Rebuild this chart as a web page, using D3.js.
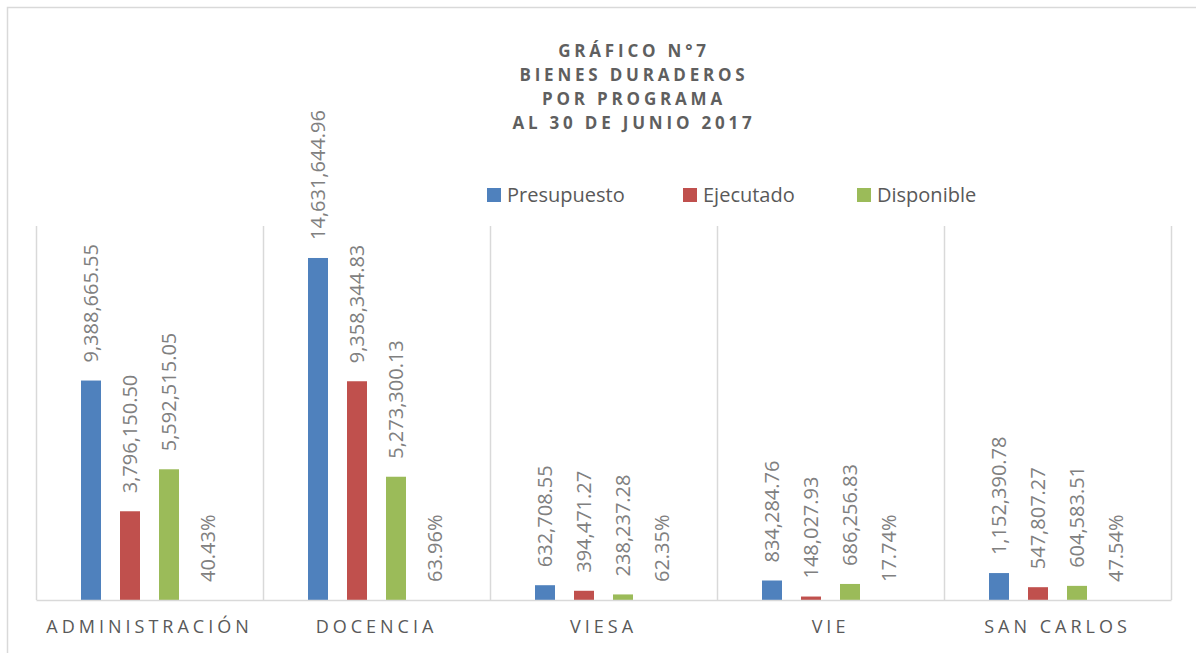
<!DOCTYPE html>
<html>
<head>
<meta charset="utf-8">
<script src="https://cdn.jsdelivr.net/npm/d3@7"></script>
<style>
  body { margin: 0; background: #fff; }
  text { font-family: "Open Sans", sans-serif; }
</style>
</head>
<body>
<div id="chart"></div>
<script>
let categories = ["ADMINISTRACIÓN", "DOCENCIA", "VIESA", "VIE", "SAN CARLOS"];
let presupuesto = [9388665.55, 14631644.96, 632708.55, 834284.76, 1152390.78];
let ejecutado = [3796150.50, 9358344.83, 394471.27, 148027.93, 547807.27];
let disponible = [5592515.05, 5273300.13, 238237.28, 686256.83, 604583.51];
let porcentaje = [0.4043, 0.6396, 0.6235, 0.1774, 0.4754];
let seriesNames = ["Presupuesto", "Ejecutado", "Disponible"];
let seriesColors = ["#4f81bd", "#c0504d", "#9bbb59"];
let titleLines = ["GRÁFICO N°7", "BIENES DURADEROS", "POR PROGRAMA", "AL 30 DE JUNIO 2017"];

let dims = { width: 1196, height: 653, left: 36, right: 1171, top: 226, bottom: 600 };

const svg = d3.select("#chart").append("svg")
  .attr("width", dims.width).attr("height", dims.height);

// outer frame
svg.append("path")
  .attr("d", `M7.5,${dims.height} V7.5 H${dims.width}`)
  .attr("fill", "none").attr("stroke", "#d9d9d9").attr("stroke-width", 1.5);

const x = d3.scaleBand().domain(categories).range([dims.left, dims.right]);
const inner = d3.scalePoint().domain([0, 1, 2, 3]).range([-58.5, 58.5]);
const y = d3.scaleLinear().domain([0, 16000000]).range([dims.bottom, dims.top]);
const barW = 20;

// category separators
svg.append("g").selectAll("line")
  .data(d3.range(categories.length + 1))
  .join("line")
  .attr("x1", i => Math.round(dims.left + i * x.step()) + 0.5)
  .attr("x2", i => Math.round(dims.left + i * x.step()) + 0.5)
  .attr("y1", dims.top).attr("y2", dims.bottom)
  .attr("stroke", "#d9d9d9").attr("stroke-width", 1.5);

let rows = categories.map((c, i) => ({
  cat: c,
  vals: [presupuesto[i], ejecutado[i], disponible[i]],
  pct: porcentaje[i]
}));

let bars = [];
rows.forEach(r => {
  r.vals.forEach((v, k) => bars.push({ cat: r.cat, k: k, v: v }));
});

svg.append("g").selectAll("rect")
  .data(bars)
  .join("rect")
  .attr("x", d => x(d.cat) + x.bandwidth() / 2 + inner(d.k) - barW / 2)
  .attr("width", barW)
  .attr("y", d => y(d.v))
  .attr("height", d => y(0) - y(d.v))
  .attr("fill", d => seriesColors[d.k]);

const fmt = d3.format(",.2f");
const pfmt = d3.format(".2%");

let labels = bars.map(d => ({ cat: d.cat, k: d.k, v: d.v, txt: fmt(d.v) }))
  .concat(rows.map(r => ({ cat: r.cat, k: 3, v: 0, txt: pfmt(r.pct) })));

svg.append("g").selectAll("text")
  .data(labels)
  .join("text")
  .attr("transform", d => `translate(${x(d.cat) + x.bandwidth() / 2 + inner(d.k)},${y(d.v) - 18}) rotate(-90)`)
  .attr("dy", "0.35em")
  .attr("fill", "#808080")
  .style("font-size", "20px")
  .text(d => d.txt);

// axis baseline
const xAxis = svg.append("g")
  .attr("transform", `translate(0,${dims.bottom})`)
  .call(d3.axisBottom(x).tickSize(0).tickPadding(20));
xAxis.select(".domain").attr("stroke", "#d9d9d9").attr("stroke-width", 1.5);
xAxis.selectAll("text")
  .attr("fill", "#595959")
  .style("font-size", "18px")
  .style("letter-spacing", "4px")
  .style("font-family", "'Open Sans', sans-serif");

// title
svg.append("g").selectAll("text")
  .data(titleLines)
  .join("text")
  .attr("x", 634).attr("y", (d, i) => 57 + i * 24)
  .attr("text-anchor", "middle")
  .attr("fill", "#5f5f5f")
  .style("font-size", "17px").style("font-weight", "bold")
  .style("letter-spacing", "3.8px")
  .text(d => d);

// legend
let legendX = [487, 683, 857];
const legend = svg.append("g").selectAll("g")
  .data(seriesNames)
  .join("g")
  .attr("transform", (d, i) => `translate(${legendX[i]},188)`);
legend.append("rect").attr("width", 14).attr("height", 14).attr("fill", (d, i) => seriesColors[i]);
legend.append("text").attr("x", 20).attr("y", 14)
  .attr("fill", "#595959").style("font-size", "20px")
  .text(d => d);
</script>
</body>
</html>
